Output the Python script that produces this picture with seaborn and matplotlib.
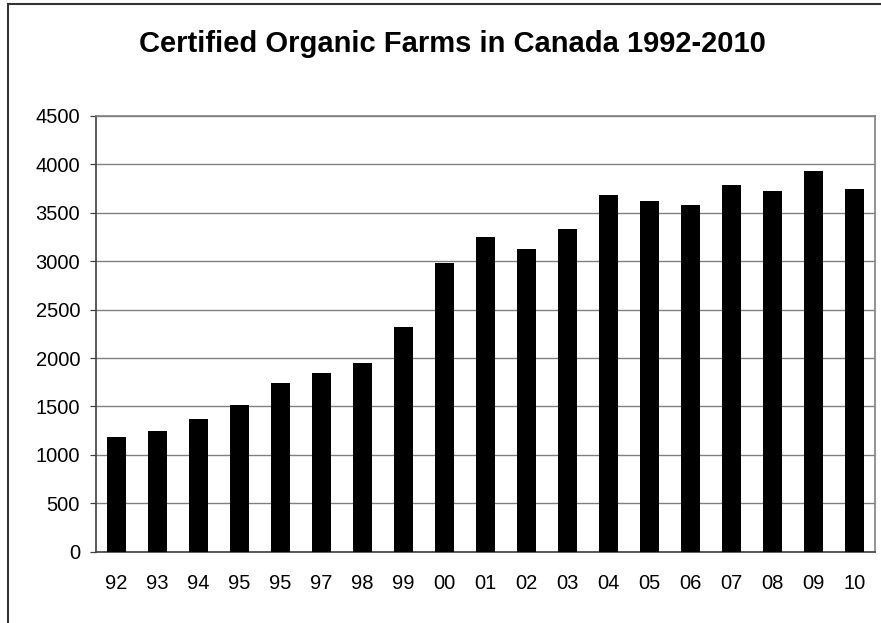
import numpy as np
import matplotlib
matplotlib.use('Agg')
import matplotlib.pyplot as plt
import seaborn as sns
from matplotlib.patches import Rectangle

# Data
year_labels = ['92', '93', '94', '95', '95', '97', '98', '99', '00', '01',
               '02', '03', '04', '05', '06', '07', '08', '09', '10']
farms = [1182, 1243, 1367, 1518, 1739, 1846, 1946, 2318, 2979, 3250,
         3126, 3333, 3681, 3622, 3581, 3784, 3725, 3929, 3746]
y_ticks = list(range(0, 5000, 500))

sns.set_style('white')
plt.rcParams['font.family'] = ['Liberation Sans', 'DejaVu Sans']
plt.rcParams['text.color'] = 'black'
plt.rcParams['xtick.color'] = 'black'
plt.rcParams['ytick.color'] = 'black'

fig = plt.figure(figsize=(8.81, 6.23), dpi=100)
ax = fig.add_axes([96 / 881, 1 - 551.7 / 623, (875 - 96) / 881, (551.7 - 116) / 623])

pos = np.arange(len(farms))
sns.barplot(x=pos, y=farms, color='black', width=0.48, saturation=1,
            edgecolor='black', linewidth=0, ax=ax, zorder=3)

ax.set_xlim(-0.5, len(farms) - 0.5)
ax.set_ylim(0, 4500)
ax.set_yticks(y_ticks)
ax.set_yticklabels([str(t) for t in y_ticks], fontsize=14.5)
ax.set_xticks(pos)
ax.set_xticklabels(year_labels, fontsize=14.5)
ax.set_xticks(np.arange(-0.5, len(farms)), minor=True)
ax.tick_params(axis='x', which='major', length=0, pad=16, labelcolor='black')
ax.tick_params(axis='x', which='minor', length=4.5, width=0.9, color='#404040', direction='out')
ax.tick_params(axis='y', length=4.5, width=0.9, color='#404040', direction='out', pad=7,
               left=True, labelcolor='black')
ax.set_xlabel('')
ax.set_ylabel('')

ax.grid(axis='y', color='#808080', linewidth=1.0, zorder=0)
ax.set_axisbelow(True)
for side in ['left', 'bottom']:
    ax.spines[side].set_color('#404040')
    ax.spines[side].set_linewidth(1.2)
for side in ['top', 'right']:
    ax.spines[side].set_color('#808080')
    ax.spines[side].set_linewidth(1.2)
    ax.spines[side].set_visible(True)

fig.text(452 / 881, 1 - 52 / 623, 'Certified Organic Farms in Canada 1992-2010',
         ha='center', va='baseline', fontsize=21, fontweight='bold', color='black')

# outer chart frame (cropped on right/bottom like the reference)
fig.patches.append(Rectangle((8 / 881, -0.2), 1.2, 1 - 4 / 623 + 0.2, transform=fig.transFigure,
                             fill=False, edgecolor='#333333', linewidth=1.5))

fig.savefig('out.png', dpi=100)
